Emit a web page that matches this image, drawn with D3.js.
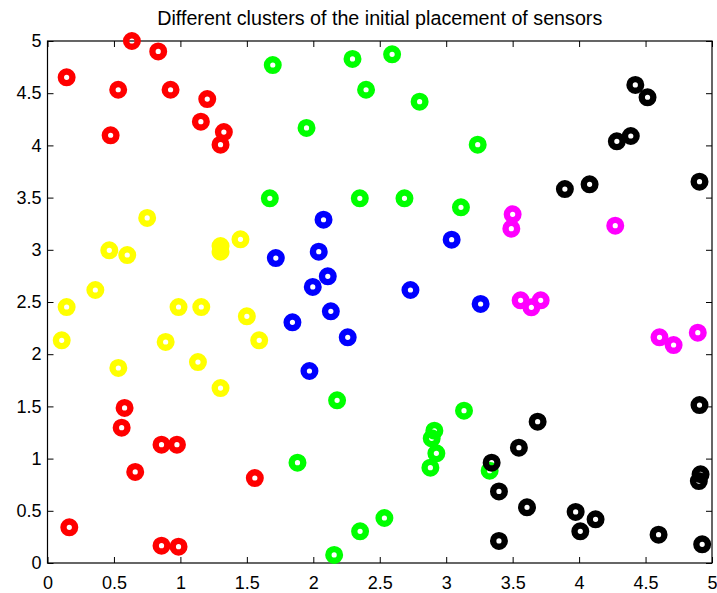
<!DOCTYPE html>
<html>
<head>
<meta charset="utf-8">
<script src="https://cdn.jsdelivr.net/npm/d3@7"></script>
<style>
  html, body { margin: 0; padding: 0; background: #fff; }
  svg { display: block; font-family: Arial, "Liberation Sans", Helvetica, sans-serif; }
</style>
</head>
<body>
<svg id="chart" width="717" height="593"></svg>
<script>
const title = "Different clusters of the initial placement of sensors";
const tickValues = [0, 0.5, 1, 1.5, 2, 2.5, 3, 3.5, 4, 4.5, 5];
const tickLabels = ["0", "0.5", "1", "1.5", "2", "2.5", "3", "3.5", "4", "4.5", "5"];

const clusterNames = ["red", "yellow", "green", "blue", "magenta", "black"];
const clusterColors = ["#ff0000", "#ffff00", "#00ff00", "#0000ff", "#ff00ff", "#000000"];

const redX = [0.144, 0.635, 0.833, 0.532, 0.926, 1.202, 0.475, 1.154, 1.327, 1.302, 0.58, 0.558, 0.858, 0.974, 0.66, 1.56, 0.164, 0.858, 0.986];
const redY = [4.652, 5.0, 4.90, 4.533, 4.533, 4.444, 4.097, 4.227, 4.128, 4.007, 1.485, 1.296, 1.133, 1.133, 0.872, 0.814, 0.342, 0.166, 0.156];

const yellowX = [0.750, 0.465, 0.600, 1.302, 1.302, 1.452, 0.36, 0.144, 0.107, 0.986, 1.157, 1.5, 1.593, 0.889, 1.132, 0.533, 1.302];
const yellowY = [3.305, 2.995, 2.950, 3.036, 2.982, 3.10, 2.615, 2.452, 2.133, 2.452, 2.452, 2.363, 2.133, 2.117, 1.925, 1.868, 1.676];

const greenX = [1.695, 2.295, 2.593, 2.397, 2.80, 1.949, 3.237, 1.673, 2.35, 2.686, 3.111, 2.179, 3.134, 2.911, 2.891, 2.926, 2.881, 1.881, 3.327, 2.535, 2.352, 2.157];
const greenY = [4.770, 4.828, 4.872, 4.533, 4.419, 4.167, 4.007, 3.493, 3.493, 3.493, 3.407, 1.558, 1.459, 1.267, 1.194, 1.051, 0.913, 0.961, 0.884, 0.431, 0.303, 0.077];

const blueX = [2.077, 3.041, 2.041, 1.718, 2.109, 1.996, 2.731, 3.259, 2.132, 1.843, 2.259, 1.971];
const blueY = [3.288, 3.097, 2.982, 2.921, 2.746, 2.644, 2.615, 2.481, 2.411, 2.305, 2.162, 1.839];

const magentaX = [3.5, 3.49, 4.272, 3.56, 3.641, 3.711, 4.605, 4.711, 4.893];
const magentaY = [3.34, 3.202, 3.231, 2.516, 2.449, 2.516, 2.162, 2.088, 2.206];

const blackX = [4.423, 4.515, 4.389, 4.284, 4.079, 3.893, 4.906, 4.906, 3.688, 3.547, 3.342, 4.914, 4.901, 3.397, 3.608, 3.974, 4.124, 4.009, 4.598, 3.397, 4.926];
const blackY = [4.579, 4.461, 4.09, 4.039, 3.627, 3.582, 3.653, 1.513, 1.354, 1.105, 0.961, 0.850, 0.785, 0.686, 0.533, 0.489, 0.418, 0.303, 0.271, 0.211, 0.179];

const clusterXs = [redX, yellowX, greenX, blueX, magentaX, blackX];
const clusterYs = [redY, yellowY, greenY, blueY, magentaY, blackY];

const W = 717, H = 593;
const margin = { left: 47.5, right: 5, top: 41, bottom: 30 };
const x = d3.scaleLinear().domain([0, 5]).range([margin.left, W - margin.right]);
const y = d3.scaleLinear().domain([0, 5]).range([H - margin.bottom, margin.top]);

const svg = d3.select("#chart");
svg.append("rect").attr("width", W).attr("height", H).attr("fill", "#fff");

const fmt = v => tickLabels[tickValues.indexOf(v)];
const tickSize = 6;

// bottom axis
const gB = svg.append("g").attr("transform", `translate(0,${y(0)})`)
  .call(d3.axisBottom(x).tickValues(tickValues).tickFormat(fmt).tickSizeInner(-tickSize).tickSizeOuter(0).tickPadding(13));
// left axis
const gL = svg.append("g").attr("transform", `translate(${x(0)},0)`)
  .call(d3.axisLeft(y).tickValues(tickValues).tickFormat(fmt).tickSizeInner(-tickSize).tickSizeOuter(0).tickPadding(6));
// top axis (ticks only)
const gT = svg.append("g").attr("transform", `translate(0,${y(5)})`)
  .call(d3.axisTop(x).tickValues(tickValues).tickFormat("").tickSizeInner(-tickSize).tickSizeOuter(0));
// right axis (ticks only)
const gR = svg.append("g").attr("transform", `translate(${x(5)},0)`)
  .call(d3.axisRight(y).tickValues(tickValues).tickFormat("").tickSizeInner(-tickSize).tickSizeOuter(0));

[gB, gL, gT, gR].forEach(g => {
  g.select(".domain").remove();
  g.selectAll(".tick line").attr("stroke", "#000").attr("stroke-width", 1);
  g.selectAll(".tick text").attr("fill", "#000").style("font-size", "18px").style("font-family", "Arial, 'Liberation Sans', sans-serif");
});

// box
svg.append("rect")
  .attr("x", x(0)).attr("y", y(5))
  .attr("width", x(5) - x(0)).attr("height", y(0) - y(5))
  .attr("fill", "none").attr("stroke", "#000").attr("stroke-width", 1.2);

// points
const gP = svg.append("g");
clusterXs.forEach((xs, ci) => {
  const pts = xs.map((xv, i) => [xv, clusterYs[ci][i]]);
  gP.append("g").attr("class", clusterNames[ci])
    .selectAll("circle").data(pts).join("circle")
    .attr("cx", d => x(d[0])).attr("cy", d => y(d[1]))
    .attr("r", 5.8)
    .attr("fill", "none")
    .attr("stroke", clusterColors[ci])
    .attr("stroke-width", 6.4);
});

// title
svg.append("text")
  .attr("x", (x(0) + x(5)) / 2).attr("y", 25)
  .attr("text-anchor", "middle")
  .style("font-size", "19.7px")
  .attr("fill", "#000")
  .text(title);
</script>
</body>
</html>
